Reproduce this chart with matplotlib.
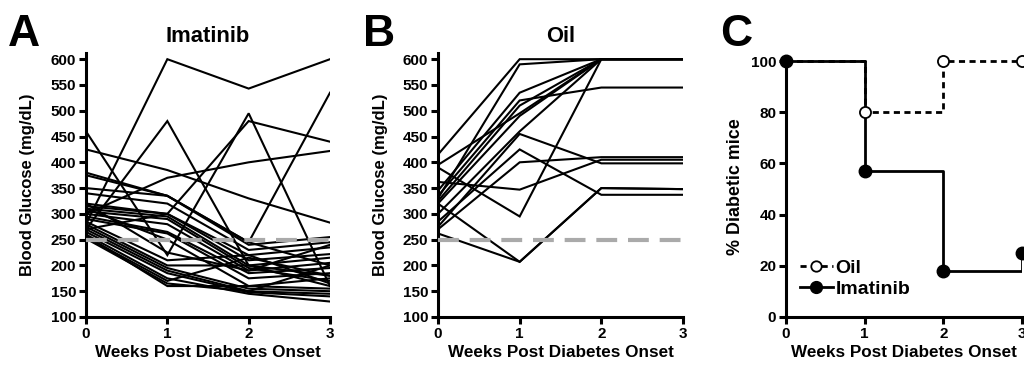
import matplotlib
matplotlib.use("Agg")
import matplotlib.pyplot as plt
import numpy as np

plt.rcParams['font.family'] = ['Liberation Sans', 'DejaVu Sans']
plt.rcParams['font.weight'] = 'bold'
plt.rcParams['axes.labelweight'] = 'bold'

# ── Data ──────────────────────────────────────────────────────────────────────
weeks = [0, 1, 2, 3]

# Panel A: individual imatinib-treated mice (mg/dL)
imatinib_glucose = [
    [280, 600, 543, 600],
    [270, 480, 200, 180],
    [460, 220, 495, 160],
    [425, 385, 330, 283],
    [300, 370, 400, 422],
    [270, 300, 480, 440],
    [380, 335, 245, 535],
    [375, 335, 245, 200],
    [350, 335, 240, 255],
    [340, 320, 230, 245],
    [320, 300, 220, 235],
    [315, 300, 210, 222],
    [310, 295, 200, 215],
    [305, 290, 195, 170],
    [300, 280, 190, 205],
    [295, 265, 185, 195],
    [290, 262, 175, 185],
    [310, 250, 160, 175],
    [285, 210, 220, 165],
    [280, 200, 200, 160],
    [275, 195, 155, 150],
    [270, 190, 150, 145],
    [265, 185, 148, 140],
    [260, 175, 145, 130],
    [255, 170, 215, 180],
    [252, 165, 150, 200],
    [258, 160, 160, 155],
    [320, 225, 190, 240],
]

# Panel B: individual oil-treated mice (mg/dL)
oil_glucose = [
    [415, 600, 600, 600],
    [330, 590, 600, 600],
    [395, 495, 600, 600],
    [345, 535, 600, 600],
    [335, 520, 545, 545],
    [325, 510, 600, 600],
    [320, 490, 600, 600],
    [300, 460, 600, 600],
    [390, 295, 600, 600],
    [285, 425, 337, 337],
    [275, 455, 398, 398],
    [270, 400, 410, 410],
    [362, 347, 405, 405],
    [262, 207, 350, 348],
    [320, 207, 350, 348],
]

threshold = 250

# Panel C: % diabetic mice
pct_oil = [100, 80, 100, 100]
pct_imatinib = [100, 57, 18, 25]

# ── Plot ──────────────────────────────────────────────────────────────────────
W, H = 1024, 368
fig = plt.figure(figsize=(W / 100, H / 100), dpi=100)


def px_axes(left, right, top, bottom):
    return fig.add_axes([left / W, 1 - bottom / H, (right - left) / W, (bottom - top) / H])


def style(ax):
    for s in ("top", "right"):
        ax.spines[s].set_visible(False)
    for s in ("left", "bottom"):
        ax.spines[s].set_linewidth(2.2)
    ax.tick_params(width=2.2, length=5, labelsize=11, pad=2)
    for lab in ax.get_xticklabels() + ax.get_yticklabels():
        lab.set_fontweight("bold")


def glucose_panel(ax, data, title):
    for row in data:
        ax.plot(weeks, row, color="black", lw=1.5, solid_joinstyle="miter")
    ax.plot([0, 3], [threshold, threshold], color="#aaaaaa", lw=3,
            dashes=(5, 2.6), zorder=3)
    ax.set_xlim(0, 3)
    ax.set_ylim(100, 612)
    ax.set_xticks(weeks)
    ax.set_yticks(np.arange(100, 601, 50))
    ax.set_ylabel("Blood Glucose (mg/dL)", fontsize=12, labelpad=11)
    ax.set_xlabel("Weeks Post Diabetes Onset", fontsize=12.3, labelpad=3)
    ax.set_title(title, fontsize=15.8, fontweight="bold", pad=8)
    style(ax)


axA = px_axes(86, 330, 53, 317)
glucose_panel(axA, imatinib_glucose, "Imatinib")

axB = px_axes(438, 683, 53, 317)
glucose_panel(axB, oil_glucose, "Oil")

axC = px_axes(786, 1022, 56, 317)
axC.step(weeks, pct_oil, where="post", color="black", lw=2, dashes=(2.2, 1.6))
axC.step(weeks, pct_imatinib, where="post", color="black", lw=2)
axC.plot(weeks[1:], pct_oil[1:], "o", ms=8, mfc="white", mec="black",
         mew=1.3, clip_on=False, zorder=4)
axC.plot(weeks, pct_imatinib, "o", ms=9, color="black", clip_on=False, zorder=5)
axC.set_xlim(0, 3)
axC.set_ylim(0, 102)
axC.set_xticks(weeks)
axC.set_yticks(np.arange(0, 101, 20))
axC.set_ylabel("% Diabetic mice", fontsize=12.9, labelpad=5)
axC.set_xlabel("Weeks Post Diabetes Onset", fontsize=12.3, labelpad=3)
style(axC)

h_oil, = axC.plot([], [], color="black", lw=2, dashes=(2.2, 1.6), marker="o",
                  ms=7.5, mfc="white", mec="black", mew=1.3)
h_ima, = axC.plot([], [], color="black", lw=2, marker="o", ms=8.5)
axC.legend([h_oil, h_ima], ["Oil", "Imatinib"], loc="lower left",
           bbox_to_anchor=(0.0, 0.02), frameon=False,
           handlelength=1.7, handletextpad=0.15, borderaxespad=0.3,
           labelspacing=0.2, prop={"weight": "bold", "size": 14})

# panel letters
for x, letter in [(8, "A"), (363, "B"), (720, "C")]:
    fig.text(x / W, 1 - 46 / H, letter, fontsize=32, fontweight="bold",
             ha="left", va="baseline")

fig.savefig("out.png", dpi=100)
